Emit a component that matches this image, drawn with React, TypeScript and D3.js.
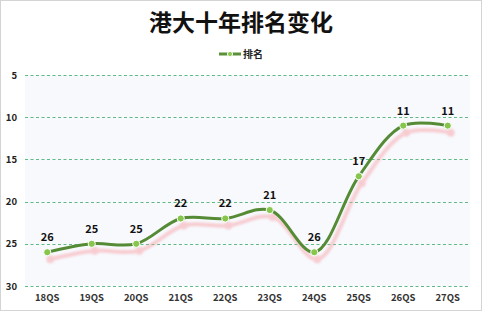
import React from "react";
import * as d3 from "d3";

const categories = ["18QS", "19QS", "20QS", "21QS", "22QS", "23QS", "24QS", "25QS", "26QS", "27QS"];
const ranks = [26, 25, 25, 22, 22, 21, 26, 17, 11, 11];
const yTicks = [5, 10, 15, 20, 25, 30];

const W = 482;
const H = 311;
const font = "'Noto Sans CJK SC', 'Noto Sans', sans-serif";

const App = () => {
  const left = 25;
  const right = 470;
  const top = 75;
  const bottom = 286;

  const x = d3.scaleBand<string>().domain(categories).range([left, right]);
  const y = d3.scaleLinear().domain([5, 30]).range([top, bottom]);
  const cx = (c: string) => (x(c) ?? 0) + x.bandwidth() / 2;

  const pts: [number, number][] = ranks.map((r, i) => [cx(categories[i]), y(r)]);
  const line = d3.line().curve(d3.curveCatmullRom.alpha(0.5));
  const path = line(pts) ?? "";

  return (
    <svg
      width={W}
      height={H}
      style={{ position: "absolute", left: 0, top: 0 }}
      fontFamily={font}
    >
      <defs>
        <filter id="blur" x="-10%" y="-50%" width="120%" height="200%">
          <feGaussianBlur stdDeviation="1.3" />
        </filter>
      </defs>
      <rect x={0.5} y={0.5} width={W - 1} height={H - 1} fill="#fff" stroke="#d4d4d4" />
      <text x={W / 2} y={31} textAnchor="middle" fontSize={23} fontWeight={700} fill="#111">
        港大十年排名变化
      </text>

      {/* legend */}
      <g>
        <line x1={219} x2={241} y1={54} y2={54} stroke="#5a9138" strokeWidth={3} />
        <circle cx={230} cy={54} r={2.6} fill="#8cc850" stroke="#fff" strokeWidth={1} />
        <text x={243} y={57.5} fontSize={10} fontWeight={700} fill="#222">
          排名
        </text>
      </g>

      <rect x={left} y={top} width={right - left} height={bottom - top} fill="#f7f9fd" />

      {yTicks.map((t) => (
        <g key={t}>
          <line
            x1={left}
            x2={right}
            y1={Math.round(y(t)) + 0.5}
            y2={Math.round(y(t)) + 0.5}
            stroke="#5fba86"
            strokeWidth={1}
            strokeDasharray="3,2.5"
          />
          <text x={17} y={y(t) + 3.5} textAnchor="end" fontSize={9.5} fontWeight={700} fill="#222">
            {t}
          </text>
        </g>
      ))}

      {categories.map((c) => (
        <text key={c} x={cx(c)} y={301} textAnchor="middle" fontSize={9.5} fontWeight={700} fill="#333">
          {c}
        </text>
      ))}

      {/* pink shadow */}
      <g transform="translate(3,7)" filter="url(#blur)" opacity={0.5}>
        <path d={path} fill="none" stroke="#f7a0a6" strokeWidth={4} />
        {pts.map((p, i) => (
          <circle key={i} cx={p[0]} cy={p[1]} r={4} fill="#f7a0a6" />
        ))}
      </g>

      <path d={path} fill="none" stroke="#558b35" strokeWidth={3} strokeLinecap="round" />
      {pts.map((p, i) => (
        <circle key={i} cx={p[0]} cy={p[1]} r={3.6} fill="#86c64c" stroke="#fff" strokeWidth={1} />
      ))}

      {pts.map((p, i) => (
        <text
          key={i}
          x={p[0]}
          y={p[1] - 11}
          textAnchor="middle"
          fontSize={11}
          fontWeight={700}
          fill="#111"
        >
          {ranks[i]}
        </text>
      ))}
    </svg>
  );
};

export default App;
